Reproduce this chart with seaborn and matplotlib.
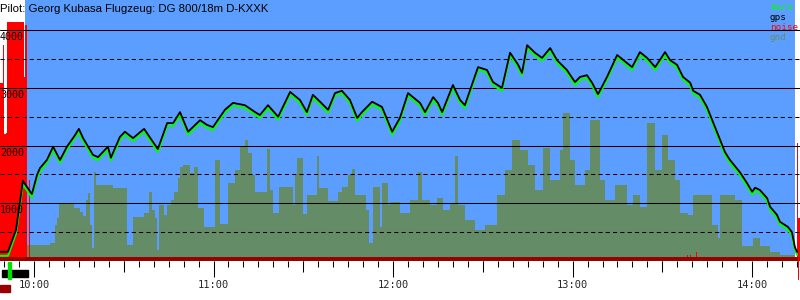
import matplotlib
matplotlib.use("Agg")
import matplotlib.pyplot as plt
import matplotlib.transforms as mtransforms
from matplotlib.patches import Rectangle
import seaborn as sns
import pandas as pd

# ---------------- data (minutes after 10:00, altitude in ft) ----------------
flight_min = [-11.4, -8.7, -6.0, -3.7, -2.3, -0.7, 1.0, 2.0, 4.3, 6.4,
              8.7, 11.0, 13.7, 15.0, 16.4, 19.7, 21.4, 24.7, 25.7, 28.7,
              30.4, 33.1, 36.8, 39.8, 41.4, 44.5, 46.5, 48.8, 51.5, 55.5,
              57.8, 59.8, 63.8, 66.5, 70.5, 73.9, 75.5, 78.2, 81.6, 85.6,
              88.9, 91.2, 93.2, 95.6, 98.3, 100.6, 102.9, 105.6, 108.0, 109.6,
              113.0, 116.3, 119.7, 122.3, 125.0, 129.0, 130.7, 133.4, 135.0, 136.4,
              140.0, 142.4, 144.0, 148.4, 151.4, 153.4, 156.4, 159.1, 161.8, 163.1,
              164.8, 167.4, 169.8, 172.5, 174.8, 178.1, 180.8, 182.5, 184.8, 186.5,
              188.5, 191.5, 194.9, 198.2, 199.9, 202.5, 204.9, 207.6, 210.9, 212.6,
              214.9, 216.9, 219.3, 220.3, 222.6, 224.9, 227.6, 229.3, 230.9, 232.6,
              235.9, 238.3, 240.0, 241.0, 242.6, 245.0, 246.0, 248.3, 249.3, 252.0,
              253.3, 254.3, 255.0]
gps_ft = [160, 160, 540, 1390, 1280, 1160, 1490, 1610, 1750, 1980,
          1750, 1980, 2180, 2290, 2130, 1840, 1800, 1980, 1790, 2150,
          2240, 2130, 2290, 2060, 1940, 2390, 2390, 2580, 2240, 2440,
          2360, 2320, 2620, 2740, 2700, 2580, 2530, 2700, 2500, 2930,
          2790, 2580, 2880, 2760, 2620, 2910, 2950, 2790, 2480, 2580,
          2760, 2670, 2240, 2480, 2910, 2740, 2580, 2840, 2740, 2580,
          3050, 2790, 2700, 3360, 3310, 3100, 3000, 3610, 3400, 3260,
          3740, 3610, 3520, 3690, 3480, 3310, 3100, 3190, 3220, 3090,
          2890, 3190, 3570, 3430, 3360, 3620, 3520, 3360, 3620, 3480,
          3400, 3190, 3090, 2950, 2880, 2670, 2320, 2100, 1890, 1750,
          1540, 1350, 1200, 1270, 1230, 1090, 940, 800, 680, 590,
          500, 240, 160]
baro_ft = [90, 90, 480, 1330, 1220, 1100, 1430, 1550, 1700, 1930,
           1700, 1930, 2130, 2240, 2080, 1790, 1750, 1930, 1740, 2100,
           2190, 2080, 2240, 2010, 1890, 2340, 2340, 2530, 2190, 2390,
           2310, 2270, 2570, 2690, 2650, 2530, 2480, 2650, 2450, 2880,
           2740, 2530, 2830, 2710, 2570, 2860, 2900, 2740, 2430, 2530,
           2710, 2620, 2190, 2430, 2860, 2690, 2530, 2790, 2690, 2530,
           3000, 2740, 2650, 3310, 3260, 3050, 2950, 3560, 3350, 3210,
           3690, 3560, 3470, 3640, 3430, 3260, 3050, 3140, 3170, 3040,
           2840, 3140, 3520, 3380, 3310, 3570, 3470, 3310, 3570, 3430,
           3350, 3140, 3040, 2900, 2830, 2620, 2270, 2050, 1840, 1700,
           1490, 1300, 1150, 1220, 1180, 1040, 890, 750, 630, 540,
           450, 190, 110]

gnd_min = [-2.3, 5.3, 7.0, 7.7, 8.4, 13.4, 15.4, 16.4, 17.4, 18.0,
           18.7, 19.4, 20.1, 20.7, 26.4, 31.1, 33.1, 36.8, 38.4, 39.4,
           40.4, 41.1, 41.8, 43.4, 44.5, 45.8, 46.8, 48.1, 48.8, 49.8,
           52.1, 53.5, 54.8, 56.8, 60.5, 62.2, 64.8, 67.2, 68.9, 70.5,
           71.5, 72.9, 73.9, 77.9, 78.9, 79.9, 81.9, 86.6, 87.2, 87.9,
           89.9, 91.2, 94.6, 95.3, 98.3, 101.6, 102.9, 104.9, 106.3, 107.3,
           111.0, 112.0, 113.3, 115.6, 116.3, 118.3, 119.0, 122.3, 125.7, 128.3,
           129.7, 132.4, 134.7, 136.7, 139.0, 140.7, 141.7, 144.1, 147.4, 150.7,
           154.7, 157.4, 159.8, 162.4, 165.1, 167.4, 170.1, 172.5, 175.8, 176.8,
           179.1, 180.8, 184.2, 185.8, 189.2, 190.8, 194.2, 198.2, 200.2, 202.5,
           204.9, 207.6, 209.9, 211.9, 214.2, 215.9, 218.6, 220.3, 222.6, 226.6,
           228.6, 229.3, 234.3, 236.6, 240.3, 242.6, 246.0, 249.3, 254.3]
gnd_ft = [280, 310, 620, 750, 1000, 920, 850, 780, 1060, 1180,
          620, 230, 1540, 1320, 1260, 280, 760, 830, 1200, 880,
          750, 190, 970, 800, 970, 1060, 1200, 1440, 1630, 1660,
          1520, 1630, 920, 590, 1750, 640, 1350, 1580, 1990, 2100,
          1870, 1490, 1200, 1940, 1230, 830, 1280, 970, 1490, 1790,
          820, 1140, 1820, 1260, 1040, 1200, 1280, 1490, 1590, 1140,
          880, 310, 1280, 590, 1350, 970, 1020, 830, 1060, 1540,
          1060, 970, 1090, 880, 1000, 1820, 970, 710, 540, 620,
          1140, 1580, 2100, 1920, 1660, 1230, 1960, 1400, 1920, 2570,
          1750, 1320, 1580, 2440, 1400, 1060, 1320, 970, 1140, 940,
          2390, 1580, 2180, 1750, 1400, 830, 800, 1140, 1140, 620,
          400, 1140, 1060, 260, 400, 260, 160, 100, 0]

noise_min = [-11.4, -10.5, -10.4, -9.9, -9.5, -9.2, -9.0, -3.3, -2.9, -2.2,
             -1.7, -1.5, 218.2, 218.5, 219.3, 219.6, 221.3, 221.6, 255.0, 255.3, 256.0]
noise_ft = [3090, 1060, 3740, 2200, 3360, 2220, 4140, 3190, 4090, 0,
            1400, 0, 110, 0, 110, 0, 160, 0, 2040, 740, 740]
landing_mark_min = 255.55
landing_mark_ft = [-330, 740]          # bottom / top of the landing marker

flight_span = [-3.0, 254.3]          # blue "in flight" background
hour_ticks = [0, 60, 120, 180, 240]
hour_labels = ["10:00", "11:00", "12:00", "13:00", "14:00"]
alt_labels = [1000, 2000, 3000, 4000]
title = "Pilot: Georg Kubasa Flugzeug: DG 800/18m D-KXXK"
legend_items = [("baro", "#00ff00"), ("gps", "#000000"), ("noise", "#ff0000"), ("gnd", "#648c66")]

# ---------------- styling ----------------
sns.set_style("white")
plt.rcParams["font.family"] = ["DejaVu Sans"]

BLUE = "#5c9eff"
GND = "#648c66"
DARKRED = "#990000"

fig = plt.figure(figsize=(8, 3), dpi=100)
ax = fig.add_axes([0, 39 / 300, 1, 261 / 300])
ax.set_facecolor("white")
ax.set_xlim(-11.36, 256.0)
ax.set_ylim(0, 4523)
for s in ax.spines.values():
    s.set_visible(False)

ax.axvspan(flight_span[0], flight_span[1], color=BLUE, zorder=0, lw=0)
ax.fill_between(gnd_min, 0, gnd_ft, step="post", color=GND, lw=0, zorder=1)
ax.fill_between(noise_min, 0, noise_ft, step="post", color="#ff0000", lw=0, zorder=1.5)
ax.axhspan(0, 69, color=DARKRED, lw=0, zorder=1.6)
ax.bar([landing_mark_min], [landing_mark_ft[1] - landing_mark_ft[0]],
       bottom=landing_mark_ft[0], width=0.5, color="#ff0000", lw=0,
       zorder=1.7, clip_on=False)

for v in [1000, 2000, 3000, 4000]:
    ax.axhline(v, color="black", lw=0.75, zorder=2)
for v in [500, 1500, 2500, 3500]:
    ax.axhline(v, color="black", lw=0.75, ls=(0, (4, 3)), zorder=2)

df = pd.DataFrame({"t": flight_min, "gps": gps_ft, "baro": baro_ft})
sns.lineplot(data=df, x="t", y="baro", ax=ax, color="#00ff00", lw=1.5,
             estimator=None, sort=False, zorder=3)
sns.lineplot(data=df, x="t", y="gps", ax=ax, color="black", lw=1.3,
             estimator=None, sort=False, zorder=3.1)
ax.set_xlabel("")
ax.set_ylabel("")

# y labels inside the plot
off = mtransforms.ScaledTranslation(0, -2 / 100, fig.dpi_scale_trans)
trans = mtransforms.blended_transform_factory(ax.transAxes, ax.transData) + off
for v in alt_labels:
    ax.text(0.0, v, str(v), transform=trans, ha="left", va="top",
            fontsize=7.2, family="DejaVu Sans Mono", color="black", zorder=5)

# x ticks
ax.set_yticks([])
ax.set_xticks(hour_ticks)
ax.set_xticklabels(hour_labels, family="DejaVu Sans Mono", fontsize=7.5)
ax.set_xticks([m for m in range(-10, 256, 5)], minor=True)
ax.tick_params(axis="x", which="major", direction="out", length=11.5, width=0.75,
               color="black", pad=2.5, bottom=True)
ax.tick_params(axis="x", which="minor", direction="out", length=4.3, width=0.75,
               color="black", bottom=True)
sec = ax.secondary_xaxis("bottom")
sec.set_xticks([-30 + 60 * k for k in range(1, 6)])
sec.set_xticklabels([])
sec.tick_params(axis="x", which="major", direction="out", length=7.9, width=0.75, color="black")
sec.tick_params(axis="x", which="minor", bottom=False)
sec.spines["bottom"].set_visible(False)

# title and legend
fig.text(0.0, 1 - 8.5 / 300, title, ha="left", va="center", fontsize=8.2,
         family="Liberation Sans", color="black")
for i, (name, col) in enumerate(legend_items):
    fig.text(770 / 800, 1 - (7.5 + 10 * i) / 300, name, ha="left", va="center",
             fontsize=6.7, family="DejaVu Sans Mono", color=col)

# small indicators at bottom-left
fig.patches.append(Rectangle((2 / 800, 1 - 277 / 300), 26 / 800, 7 / 300,
                             transform=fig.transFigure, color="black", zorder=5))
fig.patches.append(Rectangle((7.5 / 800, 1 - 279 / 300), 3 / 800, 17 / 300,
                             transform=fig.transFigure, color="#00e000", zorder=6))
fig.patches.append(Rectangle((0, 1 - 292 / 300), 10 / 800, 7 / 300,
                             transform=fig.transFigure, color=DARKRED, zorder=5))

fig.savefig("out.png", dpi=100, facecolor="white")
